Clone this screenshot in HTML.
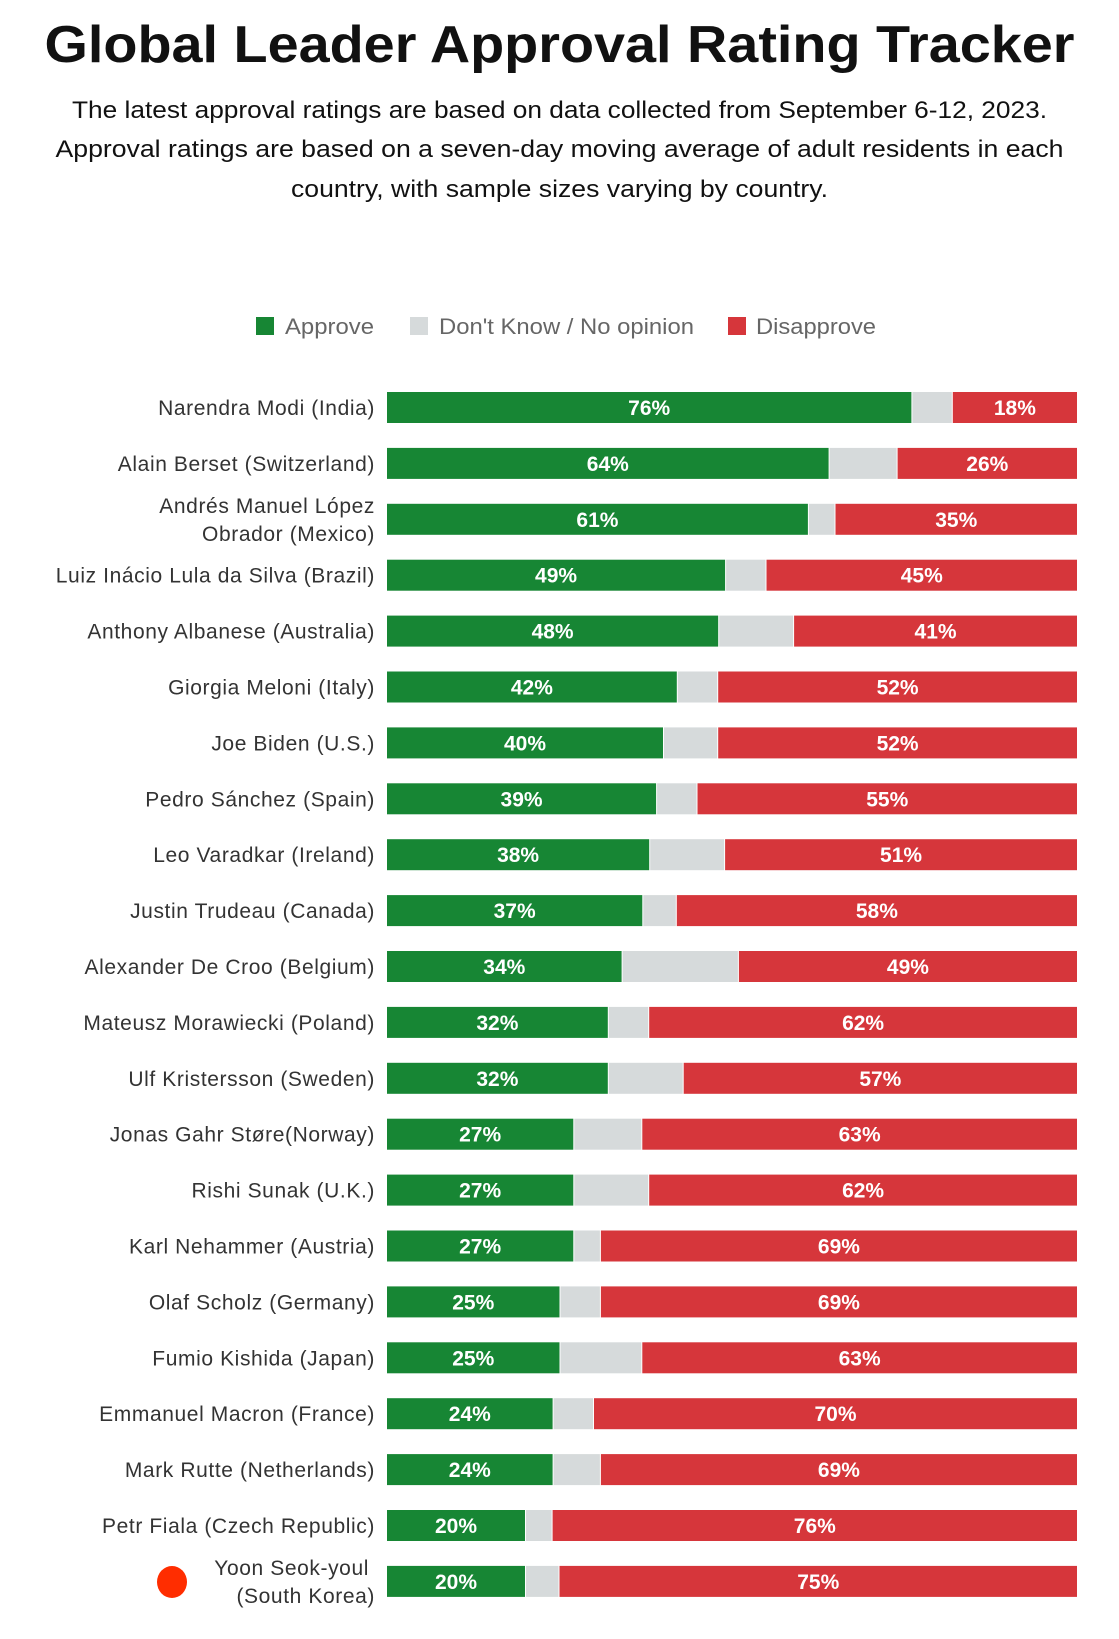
<!DOCTYPE html>
<html><head><meta charset="utf-8">
<style>
html,body{margin:0;padding:0;background:#fff;}
svg{display:block;font-family:"Liberation Sans",sans-serif;}
</style></head>
<body>
<svg id="chart" width="1119" height="1639" viewBox="0 0 1119 1639">
<text x="559.5" y="62" text-anchor="middle" font-size="52" font-weight="bold" fill="#111" textLength="1030" lengthAdjust="spacingAndGlyphs">Global Leader Approval Rating Tracker</text>
<text x="559.5" y="118" text-anchor="middle" font-size="24" fill="#111" textLength="975" lengthAdjust="spacingAndGlyphs">The latest approval ratings are based on data collected from September 6-12, 2023.</text>
<text x="559.5" y="157" text-anchor="middle" font-size="24" fill="#111" textLength="1008" lengthAdjust="spacingAndGlyphs">Approval ratings are based on a seven-day moving average of adult residents in each</text>
<text x="559.5" y="197" text-anchor="middle" font-size="24" fill="#111" textLength="537" lengthAdjust="spacingAndGlyphs">country, with sample sizes varying by country.</text>
<g>
 <rect x="256" y="317" width="18" height="18" fill="#178634"/>
 <text x="285" y="334" font-size="22" fill="#666" textLength="89" lengthAdjust="spacingAndGlyphs">Approve</text>
 <rect x="410" y="317" width="18" height="18" fill="#d6dadb"/>
 <text x="439" y="334" font-size="22" fill="#666" textLength="255" lengthAdjust="spacingAndGlyphs">Don't Know / No opinion</text>
 <rect x="728" y="317" width="18" height="18" fill="#d6363b"/>
 <text x="756" y="334" font-size="22" fill="#666" textLength="120" lengthAdjust="spacingAndGlyphs">Disapprove</text>
</g>
<g id="bars"></g>
<ellipse cx="172" cy="1582" rx="15" ry="16" fill="#ff2d00"/>
</svg>
<script>
const leaders = [["Narendra Modi (India)"],["Alain Berset (Switzerland)"],["Andrés Manuel López","Obrador (Mexico)"],["Luiz Inácio Lula da Silva (Brazil)"],["Anthony Albanese (Australia)"],["Giorgia Meloni (Italy)"],["Joe Biden (U.S.)"],["Pedro Sánchez (Spain)"],["Leo Varadkar (Ireland)"],["Justin Trudeau (Canada)"],["Alexander De Croo (Belgium)"],["Mateusz Morawiecki (Poland)"],["Ulf Kristersson (Sweden)"],["Jonas Gahr Støre(Norway)"],["Rishi Sunak (U.K.)"],["Karl Nehammer (Austria)"],["Olaf Scholz (Germany)"],["Fumio Kishida (Japan)"],["Emmanuel Macron (France)"],["Mark Rutte (Netherlands)"],["Petr Fiala (Czech Republic)"],["Yoon Seok-youl","(South Korea)"]];
const approve = [76,64,61,49,48,42,40,39,38,37,34,32,32,27,27,27,25,25,24,24,20,20];
const disapprove = [18,26,35,45,41,52,52,55,51,58,49,62,57,63,62,69,69,63,70,69,76,75];

const X0 = 387, W = 690, Y0 = 392, STEP = 55.9, BH = 31;
const xs = v => X0 + v / 100 * W;
const ys = i => Y0 + i * STEP;
const NS = "http://www.w3.org/2000/svg";
const g = document.getElementById('bars');
function mk(tag, attrs){const e=document.createElementNS(NS,tag);for(const k in attrs)e.setAttribute(k,attrs[k]);return e;}

leaders.forEach((name, i) => {
  const y = ys(i);
  const a = approve[i], d = disapprove[i];
  const xa = xs(a), xd = xs(100 - d), xe = xs(100);
  const ra = mk('rect',{x:X0,y:y,width:xa-X0,height:BH,fill:'#178634'});
  
  
  g.appendChild(ra);
  const rn = mk('rect',{x:xa+1,y:y,width:Math.max(0,xd-xa-2),height:BH,fill:'#d6dadb'});
  
  
  g.appendChild(rn);
  const rd = mk('rect',{x:xd,y:y,width:xe-xd,height:BH,fill:'#d6363b'});
  
  
  g.appendChild(rd);
  const ta = mk('text',{x:(X0+xa)/2,y:y+23,'text-anchor':'middle','font-size':21,'font-weight':'bold',fill:'#fff'});
  ta.textContent = a + '%';
  
  
  g.appendChild(ta);
  const td = mk('text',{x:(xd+xe)/2,y:y+23,'text-anchor':'middle','font-size':21,'font-weight':'bold',fill:'#fff'});
  td.textContent = d + '%';
  
  
  g.appendChild(td);
  const lines = name;
  lines.forEach((ln, j) => {
    const off = lines.length === 1 ? 23 : (j === 0 ? 9 : 37);
    const xr = (lines.length > 1 && i === leaders.length - 1 && j === 0) ? 369 : 375;
    const t = mk('text',{x:xr,y:y+off,'text-anchor':'end','font-size':21,fill:'#333','letter-spacing':'0.6'});
    t.textContent = ln;
    
    
    g.appendChild(t);
  });
});
</script>
</body></html>
